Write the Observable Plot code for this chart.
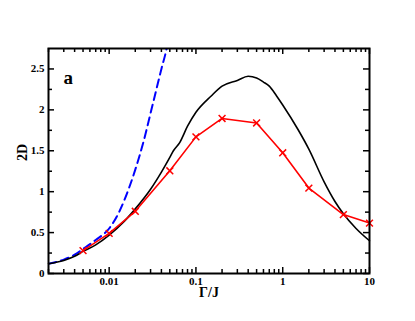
<!DOCTYPE html>
<html><head><meta charset="utf-8">
<script src="https://cdn.jsdelivr.net/npm/d3@7"></script>
<script src="https://cdn.jsdelivr.net/npm/@observablehq/plot@0.6"></script>
<style>body{margin:0;background:#fff}</style>
</head><body><div id="chart"></div>
<script>
// Red series (with markers)
const redX = [0.005, 0.01, 0.02, 0.05, 0.1, 0.2, 0.5, 1, 2, 5, 10];
const redY = [0.28, 0.49, 0.76, 1.255, 1.67, 1.895, 1.84, 1.475, 1.044, 0.72, 0.616];
// Black solid curve
const blackX = [0.002, 0.003, 0.004, 0.005, 0.007, 0.01, 0.015, 0.02, 0.03, 0.04, 0.05, 0.055, 0.065, 0.08, 0.1, 0.15, 0.2, 0.3, 0.4, 0.5, 0.6, 0.7, 0.85, 1, 1.5, 2, 3, 4, 5, 7, 10];
const blackY = [0.12, 0.16, 0.21, 0.27, 0.35, 0.47, 0.64, 0.79, 1.03, 1.24, 1.42, 1.50, 1.60, 1.80, 1.97, 2.17, 2.29, 2.36, 2.41, 2.39, 2.34, 2.29, 2.17, 2.06, 1.76, 1.52, 1.12, 0.88, 0.73, 0.55, 0.40];
// Blue dashed curve
const blueX = [0.002, 0.003, 0.004, 0.005, 0.007, 0.01, 0.013, 0.017, 0.02, 0.025, 0.03, 0.035, 0.04, 0.046, 0.05];
const blueY = [0.12, 0.17, 0.23, 0.30, 0.41, 0.55, 0.75, 1.05, 1.27, 1.62, 1.96, 2.25, 2.5, 2.75, 2.95];
// Ticks
const xMajor = [0.01, 0.1, 1, 10];
const xMajorLabels = ["0.01", "0.1", "1", "10"];
const xMinor = [0.002,0.003,0.004,0.005,0.006,0.007,0.008,0.009,0.02,0.03,0.04,0.05,0.06,0.07,0.08,0.09,0.2,0.3,0.4,0.5,0.6,0.7,0.8,0.9,2,3,4,5,6,7,8,9];
const yMajor = [0, 0.5, 1, 1.5, 2, 2.5];
const yMajorLabels = ["0", "0.5", "1", "1.5", "2", "2.5"];
const yMinor = [0.25, 0.75, 1.25, 1.75, 2.25];
const xDomain = [0.002, 10];
const yDomain = [0, 2.75];

const W = 415, H = 321, mL = 48, mR = 46, mT = 48, mB = 48;
const pw = W - mL - mR, ph = H - mT - mB;
const font = "'Liberation Serif', 'Times New Roman', serif";

const red = redX.map((x, i) => ({x, y: redY[i]}));
const black = blackX.map((x, i) => ({x, y: blackY[i]}));
const blue = blueX.map((x, i) => ({x, y: blueY[i]}));
const xLab = new Map(xMajor.map((v, i) => [v, xMajorLabels[i]]));
const yLab = new Map(yMajor.map((v, i) => [v, yMajorLabels[i]]));

// tick lengths in pixels, converted to domain units for rules
const maj = 6, mn = 4, tw = 1.5;
const yLen = px => (yDomain[1] - yDomain[0]) * px / ph;
const xRatio = px => Math.pow(xDomain[1] / xDomain[0], px / pw);
function xTicks(vals, px) {
  return [
    Plot.ruleX(vals, {x: d => d, y1: () => yDomain[0], y2: () => yDomain[0] + yLen(px), stroke: "black", strokeWidth: tw}),
    Plot.ruleX(vals, {x: d => d, y1: () => yDomain[1] - yLen(px), y2: () => yDomain[1], stroke: "black", strokeWidth: tw})
  ];
}
function yTicks(vals, px) {
  return [
    Plot.ruleY(vals, {y: d => d, x1: () => xDomain[0], x2: () => xDomain[0] * xRatio(px), stroke: "black", strokeWidth: tw}),
    Plot.ruleY(vals, {y: d => d, x1: () => xDomain[1] / xRatio(px), x2: () => xDomain[1], stroke: "black", strokeWidth: tw})
  ];
}

const chart = Plot.plot({
  width: W, height: H,
  marginLeft: mL, marginRight: mR, marginTop: mT, marginBottom: mB,
  style: {fontFamily: font, fontWeight: "bold", fontSize: "11px", background: "white", color: "black"},
  x: {type: "log", domain: xDomain},
  y: {domain: yDomain},
  marks: [
    ...xTicks(xMajor, maj),
    ...xTicks(xMinor, mn),
    ...yTicks(yMajor, maj),
    ...yTicks(yMinor, mn),
    Plot.line(blue, {x: "x", y: "y", stroke: "#0000ff", strokeWidth: 2, strokeDasharray: "8,5", clip: true, curve: "monotone-x"}),
    Plot.line(black, {x: "x", y: "y", stroke: "black", strokeWidth: 1.6, curve: "monotone-x"}),
    Plot.line(red, {x: "x", y: "y", stroke: "#ff0000", strokeWidth: 1.6}),
    Plot.dot(red, {x: "x", y: "y", symbol: "times", r: 3.2, stroke: "#ff0000", strokeWidth: 1.5}),
    Plot.axisX(xMajor, {tickSize: 0, tickPadding: 4, tickFormat: d => xLab.get(d), label: null, fontSize: 11}),
    Plot.axisY(yMajor, {tickSize: 0, tickPadding: 4, tickFormat: d => yLab.get(d), label: null, fontSize: 11}),
    Plot.text(["Γ/J"], {text: d => d, frameAnchor: "bottom", dy: 23, fontSize: 14, fontWeight: "bold"}),
    Plot.text(["2D"], {text: d => d, frameAnchor: "left", dx: -26, rotate: -90, fontSize: 14, fontWeight: "bold"}),
    Plot.text(["a"], {text: d => d, frameAnchor: "top-left", dx: 15, dy: 22, textAnchor: "start", fontSize: 19, fontWeight: "bold"}),
    Plot.frame({stroke: "black", strokeWidth: 2})
  ]
});
document.getElementById("chart").appendChild(chart);
</script>
</body></html>
